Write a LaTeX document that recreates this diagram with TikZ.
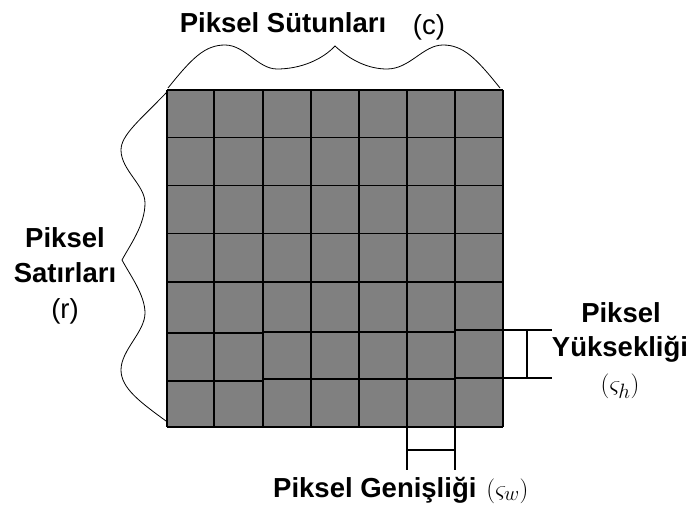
\documentclass[tikz,border=0pt]{standalone}
\usepackage{fontspec}
\setmainfont{Liberation Sans}
\begin{document}
\begin{tikzpicture}[x=1pt,y=-1pt,
  gridline/.style={line width=1.4pt,black},
  measline/.style={line width=1.2pt,black},
  bracecurve/.style={line width=0.8pt,black},
  boldlbl/.style={inner sep=0pt,font=\fontsize{27.5}{30}\selectfont\bfseries},
  plainlbl/.style={inner sep=0pt,font=\fontsize{27.5}{30}\selectfont},
  mathlbl/.style={inner sep=0pt,font=\fontsize{29}{32}\selectfont}]
\path[use as bounding box] (0,0) rectangle (693,516);
% pixel grid
\fill[gray] (167,90) rectangle (503,427);
\foreach \x in {167,214,263,311,359,407,455,503}
  \draw[gridline] (\x,90) -- (\x,427);
\foreach \y in {90,137.5,185.5,233.5,282,427}
  \draw[gridline] (167,\y) -- (503,\y);
\draw[gridline] (167,333) -- (263,333) (263,332) -- (455,332) (455,330) -- (503,330);
\draw[gridline] (167,381) -- (263,381) (263,379) -- (455,379) (455,378) -- (503,378);
% top brace (columns)
\coordinate (tb0) at (168,88);
\coordinate (tbc) at (335,46);
\coordinate (tb1) at (500,88);
\draw[bracecurve] (tb0) .. controls (192,58) and (205,45) .. (225,45)
  .. controls (245,45) and (258,69) .. (277,69)
  .. controls (300,69) and (322,60) .. (tbc)
  .. controls (350,60) and (368,69) .. (387,69)
  .. controls (410,69) and (423,45) .. (443,45)
  .. controls (463,45) and (476,58) .. (tb1);
% left brace (rows)
\coordinate (lb0) at (167,92);
\coordinate (lbc) at (122,260);
\coordinate (lb1) at (166,421);
\draw[bracecurve] (lb0) .. controls (140,120) and (121,135) .. (121,150)
  .. controls (121,170) and (145,185) .. (145,203)
  .. controls (145,225) and (130,245) .. (lbc)
  .. controls (130,275) and (145,295) .. (145,313)
  .. controls (145,332) and (121,350) .. (121,370)
  .. controls (121,388) and (140,402) .. (lb1);
% pixel height marker
\coordinate (ha) at (503,330);
\coordinate (hb) at (552,330);
\coordinate (hc) at (503,378);
\coordinate (hd) at (552,378);
\coordinate (hm1) at (527,330);
\coordinate (hm2) at (527,378);
\draw[measline] (ha) -- (hb) (hc) -- (hd) (hm1) -- (hm2);
% pixel width marker
\coordinate (wa) at (407,428);
\coordinate (wb) at (407,470);
\coordinate (wc) at (455,428);
\coordinate (wd) at (455,470);
\coordinate (wm1) at (407,450);
\coordinate (wm2) at (455,450);
\draw[measline] (wa) -- (wb) (wc) -- (wd) (wm1) -- (wm2);
% labels
\node[boldlbl,anchor=base] (topl) at (283,33) {Piksel Sütunları};
\node[plainlbl] (topc) at (429,27) {(c)};
\node[boldlbl,anchor=base] (left1) at (65,247) {Piksel};
\node[boldlbl,anchor=base] (left2) at (65,282) {Satırları};
\node[plainlbl] (left3) at (65,311) {(r)};
\node[boldlbl,anchor=base] (right1) at (621,322) {Piksel};
\node[boldlbl,anchor=base] (right2) at (620,356) {Yüksekliği};
\node[mathlbl] (right3) at (620,386) {$(\varsigma_h)$};
\node[boldlbl,anchor=base west] (bot) at (273,497) {Piksel Genişliği\hspace{10pt}{\mdseries\fontsize{29}{32}\selectfont$(\varsigma_w)$}};
\end{tikzpicture}
\end{document}
